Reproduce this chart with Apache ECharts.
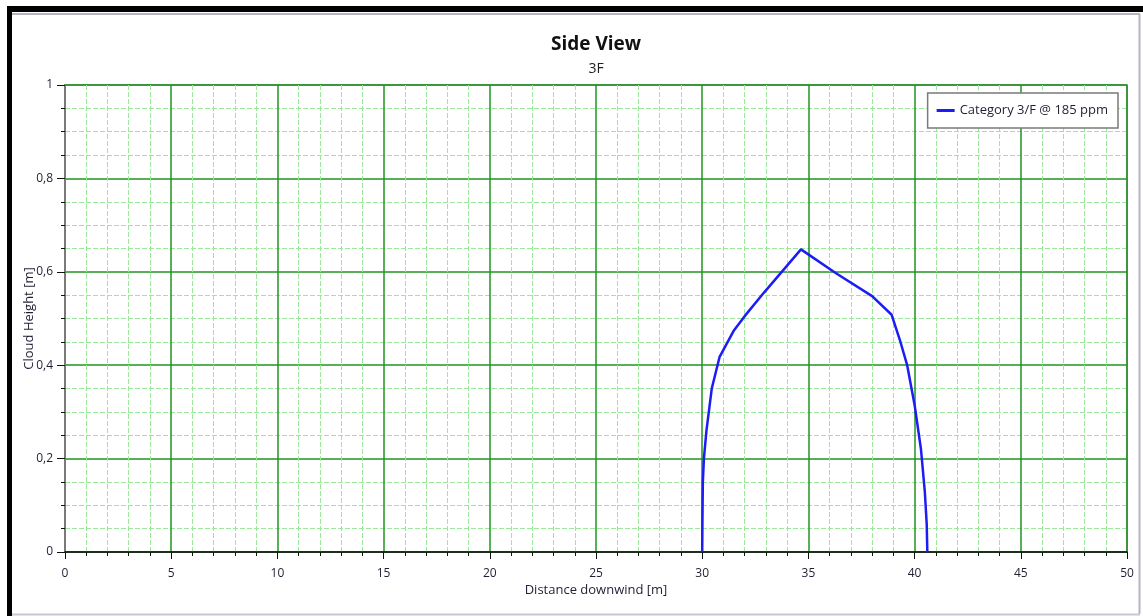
<!DOCTYPE html>
<html>
<head>
<meta charset="utf-8">
<title>Side View</title>
<script src="https://cdn.jsdelivr.net/npm/echarts@6/dist/echarts.min.js"></script>
<style>
  html, body { margin: 0; padding: 0; background: #ffffff; }
  #chart { width: 1143px; height: 616px; }
</style>
</head>
<body>
<div id="chart"></div>
<script>
// Cloud outline for category 3/F at 185 ppm (distance downwind vs cloud height)
const seriesName = 'Category 3/F @ 185 ppm';
const distance = [30.0, 30.01, 30.03, 30.08, 30.2, 30.45, 30.82, 31.5, 32.0, 32.9, 34.65, 36.3, 38.0, 38.92, 39.3, 39.65, 40.0, 40.3, 40.48, 40.57, 40.6];
const height   = [0.0, 0.06, 0.15, 0.2, 0.26, 0.35, 0.418, 0.475, 0.505, 0.555, 0.648, 0.597, 0.548, 0.508, 0.455, 0.4, 0.315, 0.22, 0.13, 0.06, 0.0];
const xTicks = { min: 0, max: 50, interval: 5 };
const yTicks = { min: 0, max: 1, interval: 0.2 };

const points = distance.map((d, i) => [d, height[i]]);
const fontFamily = '"Open Sans", "Noto Sans", sans-serif';
const labelColor = '#1f1f33';

// plot rectangle in pixels
const plot = { left: 65, right: 16, top: 85, bottom: 64 };
const W = 1143;
const plotCenterX = plot.left + (W - plot.left - plot.right) / 2;

const chart = echarts.init(document.getElementById('chart'), null, { renderer: 'canvas' });

chart.setOption({
  backgroundColor: '#ffffff',
  animation: false,
  legend: {
    right: 25,
    top: 93,
    orient: 'vertical',
    backgroundColor: '#ffffff',
    borderColor: '#7a7a7a',
    borderWidth: 1.5,
    padding: [11, 10, 11, 9],
    itemWidth: 18,
    itemHeight: 3,
    itemGap: 6,
    icon: 'rect',
    textStyle: { fontFamily, fontSize: 13, color: labelColor },
    data: [seriesName]
  },
  grid: {
    left: plot.left,
    right: plot.right,
    top: plot.top,
    bottom: plot.bottom,
    show: true,
    borderColor: '#777777',
    borderWidth: 1.5,
    backgroundColor: 'transparent'
  },
  xAxis: {
    type: 'value',
    min: xTicks.min,
    max: xTicks.max,
    interval: xTicks.interval,
    name: 'Distance downwind [m]',
    nameLocation: 'middle',
    nameGap: 32,
    nameMoveOverlap: false,
    nameTextStyle: { fontFamily, fontSize: 13, color: labelColor },
    axisLine: { show: true, onZero: false, lineStyle: { color: '#111111', width: 1.5 } },
    axisTick: { show: true, length: 7, lineStyle: { color: '#111111', width: 1 } },
    minorTick: { show: true, splitNumber: 5, length: 4, lineStyle: { color: '#111111', width: 1 } },
    axisLabel: { fontFamily, fontSize: 12, color: labelColor, margin: 16 },
    splitLine: { show: true, lineStyle: { color: '#1f961f', width: 1.5 } },
    minorSplitLine: { show: true, lineStyle: { color: '#9be89b', width: 1, type: [5, 2] } }
  },
  yAxis: {
    type: 'value',
    min: yTicks.min,
    max: yTicks.max,
    interval: yTicks.interval,
    name: 'Cloud Height [m]',
    nameLocation: 'middle',
    nameGap: 29,
    nameMoveOverlap: false,
    nameTextStyle: { fontFamily, fontSize: 13, color: labelColor },
    axisLine: { show: true, onZero: false, lineStyle: { color: '#7a7a7a', width: 2 } },
    axisTick: { show: true, length: 8, lineStyle: { color: '#111111', width: 1 } },
    minorTick: { show: true, splitNumber: 4, length: 4, lineStyle: { color: '#111111', width: 1 } },
    axisLabel: {
      fontFamily, fontSize: 12, color: labelColor, margin: 12,
      formatter: v => String(Math.round(v * 10) / 10).replace('.', ',')
    },
    splitLine: { show: true, lineStyle: { color: '#1f961f', width: 1.5 } },
    minorSplitLine: { show: true, lineStyle: { color: '#9be89b', width: 1, type: [5, 2] } }
  },
  series: [{
    name: seriesName,
    type: 'line',
    data: points,
    showSymbol: false,
    symbol: 'none',
    smooth: false,
    lineStyle: { color: '#1c1cf5', width: 2.5 },
    itemStyle: { color: '#1c1cf5' },
    z: 5
  }],
  graphic: [
    // title and subtitle centred over the plot area
    { type: 'text', x: plotCenterX, y: 45, style: { text: 'Side View', fontFamily, fontSize: 19, fontWeight: 'bold', fill: '#111111', align: 'center', verticalAlign: 'middle' }, silent: true },
    { type: 'text', x: plotCenterX, y: 69, style: { text: '3F', fontFamily, fontSize: 14, fill: '#222222', align: 'center', verticalAlign: 'middle' }, silent: true },
    // window frame
    { type: 'rect', shape: { x: 7, y: 6, width: 1136, height: 6 }, style: { fill: '#000000' }, silent: true },
    { type: 'rect', shape: { x: 7, y: 6, width: 5, height: 610 }, style: { fill: '#000000' }, silent: true },
    { type: 'line', shape: { x1: 12, y1: 14, x2: 1140, y2: 14 }, style: { stroke: '#b4b4be', lineWidth: 2 }, silent: true },
    { type: 'line', shape: { x1: 1139.5, y1: 14, x2: 1139.5, y2: 614 }, style: { stroke: '#b4b4be', lineWidth: 2 }, silent: true },
    { type: 'line', shape: { x1: 12, y1: 614.5, x2: 1140, y2: 614.5 }, style: { stroke: '#c8c8d0', lineWidth: 2 }, silent: true }
  ]
});
</script>
</body>
</html>
